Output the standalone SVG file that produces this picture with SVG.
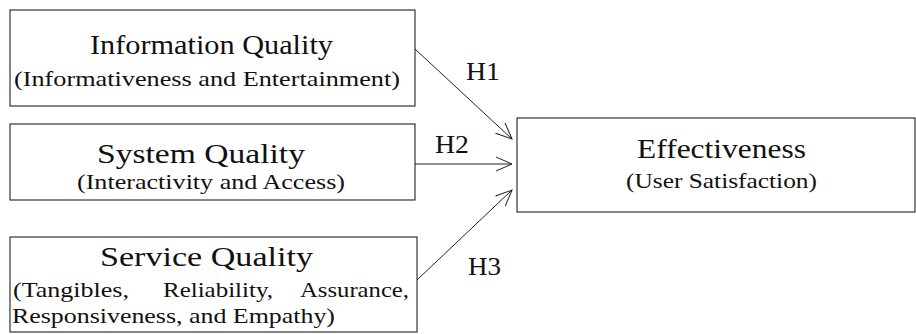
<svg xmlns="http://www.w3.org/2000/svg" width="916" height="334" viewBox="0 0 916 334">
<style>
.box{fill:#fff;stroke:#222;stroke-width:1.1}
.t{font-family:"Liberation Serif","DejaVu Serif",serif;fill:#111}
.title{font-size:28px}
.sub{font-size:22px}
.lab{font-size:25px}
.con{fill:none;stroke:#222;stroke-width:1}
</style>
<defs>
<marker id="arr" markerUnits="userSpaceOnUse" markerWidth="20" markerHeight="20" refX="0" refY="0" orient="auto" overflow="visible">
<path d="M -16 -7 L 0 0 L -16 7" fill="none" stroke="#222" stroke-width="1"/>
</marker>
</defs>
<rect width="916" height="334" fill="#fff"/>
<g id="info">
<rect class="box" x="10" y="10" width="405" height="96"/>
<text class="t title" x="90" y="54" textLength="243" lengthAdjust="spacingAndGlyphs">Information Quality</text>
<text class="t sub" x="14" y="86" textLength="386" lengthAdjust="spacingAndGlyphs">(Informativeness and Entertainment)</text>
</g>
<g id="system">
<rect class="box" x="10" y="124" width="405" height="76"/>
<text class="t title" x="97" y="163" textLength="208" lengthAdjust="spacingAndGlyphs">System Quality</text>
<text class="t sub" x="77" y="189" textLength="268" lengthAdjust="spacingAndGlyphs">(Interactivity and Access)</text>
</g>
<g id="service">
<rect class="box" x="10" y="237" width="407" height="95"/>
<text class="t title" x="100" y="266" textLength="213" lengthAdjust="spacingAndGlyphs">Service Quality</text>
<text class="t sub" x="13" y="297" textLength="116" lengthAdjust="spacingAndGlyphs">(Tangibles,</text>
<text class="t sub" x="163" y="297" textLength="110" lengthAdjust="spacingAndGlyphs">Reliability,</text>
<text class="t sub" x="300" y="297" textLength="109" lengthAdjust="spacingAndGlyphs">Assurance,</text>
<text class="t sub" x="12" y="323" textLength="323" lengthAdjust="spacingAndGlyphs">Responsiveness, and Empathy)</text>
</g>
<g id="effect">
<rect class="box" x="517" y="118" width="398" height="94"/>
<text class="t title" x="637" y="158" textLength="169" lengthAdjust="spacingAndGlyphs">Effectiveness</text>
<text class="t sub" x="626" y="188" textLength="191" lengthAdjust="spacingAndGlyphs">(User Satisfaction)</text>
</g>
<g id="connectors">
<line class="con" x1="415" y1="49" x2="512" y2="139" marker-end="url(#arr)"/>
<line class="con" x1="415" y1="164" x2="512" y2="164" marker-end="url(#arr)"/>
<line class="con" x1="417" y1="280" x2="512" y2="190" marker-end="url(#arr)"/>
<text class="t lab" x="466" y="80" textLength="34" lengthAdjust="spacingAndGlyphs">H1</text>
<text class="t lab" x="435" y="153" textLength="34" lengthAdjust="spacingAndGlyphs">H2</text>
<text class="t lab" x="468" y="275" textLength="33" lengthAdjust="spacingAndGlyphs">H3</text>
</g>
</svg>
